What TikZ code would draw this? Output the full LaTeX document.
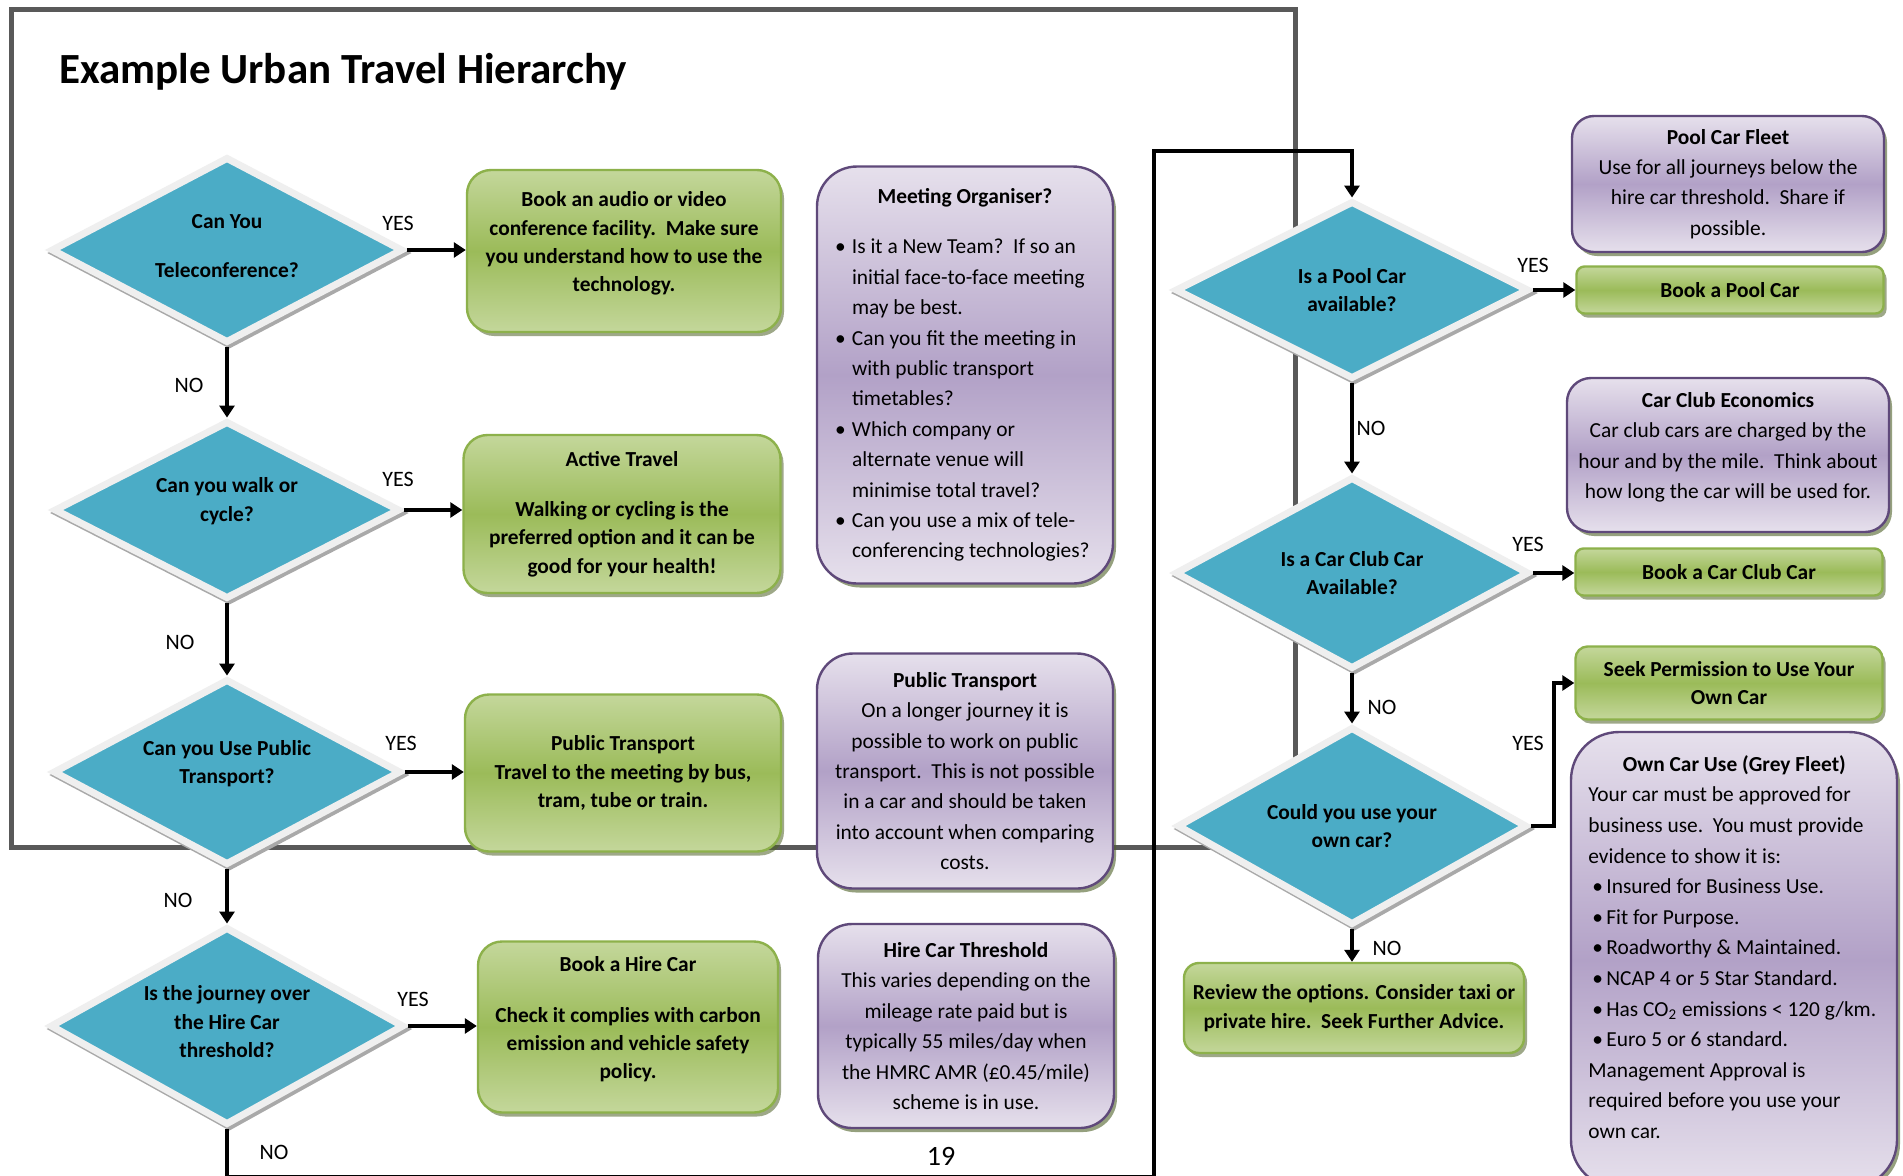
\documentclass[tikz,border=0pt]{standalone}
\usepackage{fontspec}
\setmainfont{Carlito}
\usetikzlibrary{shapes.geometric,arrows.meta,shadows}
\definecolor{diablue}{HTML}{4BACC6}
\definecolor{diaedge}{HTML}{EFEFEF}
\definecolor{diashadow}{HTML}{A9A9A9}
\definecolor{grlight}{HTML}{C4D79B}
\definecolor{grmid}{HTML}{9BBB59}
\definecolor{grborder}{HTML}{8DB14B}
\definecolor{pulight}{HTML}{E6E0EC}
\definecolor{pumid}{HTML}{B2A1C7}
\definecolor{puborder}{HTML}{5F497A}
\definecolor{olshadow}{HTML}{4F6228}
\definecolor{framegray}{HTML}{595959}
\newcommand{\mybul}{\makebox[8.5pt][l]{\textbullet}}
\newcommand{\myind}{\hspace*{8.5pt}}
\newcommand{\rbul}{\makebox[9pt][l]{\hspace{2pt}\textbullet}}
\begin{document}
\begin{tikzpicture}[x=0.5pt,y=-0.5pt,
  diam/.style={shape=diamond, shape aspect=1.9, fill=diablue, draw=diaedge, line width=3.5pt,
    inner sep=0pt, align=center, font=\fontsize{10.7}{14.2}\selectfont\bfseries,
    drop shadow={shadow xshift=1.2pt, shadow yshift=-1.5pt, fill=diashadow, draw=diashadow, line width=3.5pt, opacity=1}},
  grbox/.style={rectangle, draw=grborder, line width=1.2pt, top color=grlight, bottom color=grlight,
    middle color=grmid, align=center, inner sep=0pt, font=\fontsize{10.7}{14.2}\selectfont\bfseries,
    drop shadow={shadow xshift=1.5pt, shadow yshift=-2pt, fill=olshadow, opacity=0.55}},
  pubox/.style={rectangle, draw=puborder, line width=1.2pt, top color=pulight, bottom color=pulight,
    middle color=pumid, align=center, inner sep=0pt, font=\fontsize{10.7}{15.2}\selectfont,
    drop shadow={shadow xshift=1.5pt, shadow yshift=-2pt, fill=olshadow, opacity=0.6}},
  conn/.style={line width=2pt, -{Triangle[length=6pt,width=7.5pt]}},
  lab/.style={inner sep=0pt, font=\fontsize{11}{13}\selectfont},
]
\path[use as bounding box, fill=white] (0,0) rectangle (1903,1175);
\clip (0,0) rectangle (1903,1175);

% outer frame
\draw[framegray, line width=2.5pt] (11,9) rectangle (1295,847);

% title
\node[anchor=base west, inner sep=0pt, font=\fontsize{21.5}{25}\selectfont\bfseries] (title) at (59,83) {Example Urban Travel Hierarchy};

% left diamonds
\node[diam, minimum width=176pt, minimum height=93pt] (d1) at (227,250) {Can You\\[10.5pt]Teleconference?\\[-10pt]\mbox{}};
\node[diam, minimum width=173pt, minimum height=89pt] (d2) at (227,510) {Can you walk or\\cycle?\\[-3.8pt]\mbox{}};
\node[diam, minimum width=174pt, minimum height=93pt] (d3) at (227,772) {Can you Use Public\\Transport?\\[-4pt]\mbox{}};
\node[diam, minimum width=177pt, minimum height=99pt] (d4) at (227,1026) {Is the journey over\\the Hire Car\\threshold?\\[-10pt]\mbox{}};

% left green boxes
\node[grbox, rounded corners=12pt, minimum width=157pt, minimum height=81pt] (g1) at (624,251)
  {Book an audio or video\\conference facility.\ \ Make sure\\you understand how to use the\\technology.\\[-4.9pt]\mbox{}};
\node[grbox, rounded corners=12pt, minimum width=158.5pt, minimum height=79pt] (g2) at (622,514)
  {Active Travel\\[10.7pt]Walking or cycling is the\\preferred option and it can be\\good for your health!};
\node[grbox, rounded corners=12pt, minimum width=158pt, minimum height=78.5pt] (g3) at (623,773)
  {Public Transport\\Travel to the meeting by bus,\\tram, tube or train.};
\node[grbox, rounded corners=12pt, minimum width=150pt, minimum height=85.5pt] (g4) at (628,1027)
  {Book a Hire Car\\[11pt]Check it complies with carbon\\emission and vehicle safety\\policy.\\[-4.9pt]\mbox{}};

% middle purple boxes
\node[pubox, rounded corners=20pt, minimum width=148pt, minimum height=208.5pt] (p1) at (965,375)
  {\begin{minipage}{130pt}\raggedright
   \makebox[\linewidth]{\bfseries Meeting Organiser?}\\[10pt]
   \mybul\mbox{Is it a New Team?\ \ If so an}\\
   \myind\mbox{initial face-to-face meeting}\\
   \myind\mbox{may be best.}\\
   \mybul\mbox{Can you fit the meeting in}\\
   \myind\mbox{with public transport}\\
   \myind\mbox{timetables?}\\
   \mybul\mbox{Which company or}\\
   \myind\mbox{alternate venue will}\\
   \myind\mbox{minimise total travel?}\\
   \mybul\mbox{Can you use a mix of tele-}\\
   \myind\mbox{conferencing technologies?}
   \end{minipage}};
\node[pubox, rounded corners=18pt, minimum width=148pt, minimum height=117.5pt] (p2) at (965,771)
  {\textbf{Public Transport}\\On a longer journey it is\\possible to work on public\\transport.\ \ This is not possible\\in a car and should be taken\\into account when comparing\\costs.};
\node[pubox, rounded corners=17pt, minimum width=148pt, minimum height=102pt] (p3) at (966,1026)
  {\textbf{Hire Car Threshold}\\This varies depending on the\\mileage rate paid but is\\typically 55 miles/day when\\the HMRC AMR (£0.45/mile)\\scheme is in use.};

% page number
\node[anchor=base, inner sep=0pt, font=\fontsize{14}{16}\selectfont] (pg) at (941,1165) {19};

% right diamonds
\node[diam, minimum width=177pt, minimum height=89pt] (r1) at (1352,290) {Is a Pool Car\\available?};
\node[diam, minimum width=177pt, minimum height=96pt] (r2) at (1352,573) {Is a Car Club Car\\Available?};
\node[diam, minimum width=175pt, minimum height=99pt] (r3) at (1352,826) {Could you use your\\own car?};

% right purple boxes
\node[pubox, rounded corners=11pt, minimum width=156pt, minimum height=68pt] (rp1) at (1728,184)
  {\textbf{Pool Car Fleet}\\Use for all journeys below the\\hire car threshold.\ \ Share if\\possible.};
\node[pubox, rounded corners=12pt, minimum width=161pt, minimum height=77pt] (rp2) at (1728,455)
  {\textbf{Car Club Economics}\\Car club cars are charged by the\\hour and by the mile.\ \ Think about\\how long the car will be used for.\\[-5.7pt]\mbox{}};
\node[pubox, rounded corners=24pt, minimum width=163pt, minimum height=228pt] (rp3) at (1734,960) {};
\node[anchor=north west, inner sep=0pt, font=\fontsize{10.7}{15.3}\selectfont] (rp3t) at (1588,755)
  {\begin{minipage}[t]{146pt}\raggedright
   \makebox[\linewidth]{\bfseries Own Car Use (Grey Fleet)}\\
   \mbox{Your car must be approved for}\\
   \mbox{business use.\ \ You must provide}\\
   \mbox{evidence to show it is:}\\
   \rbul\mbox{Insured for Business Use.}\\
   \rbul\mbox{Fit for Purpose.}\\
   \rbul\mbox{Roadworthy \& Maintained.}\\
   \rbul\mbox{NCAP 4 or 5 Star Standard.}\\
   \rbul\mbox{Has CO\textsubscript{2} emissions < 120 g/km.}\\
   \rbul\mbox{Euro 5 or 6 standard.}\\
   \mbox{Management Approval is}\\
   \mbox{required before you use your}\\
   \mbox{own car.}
   \end{minipage}};

% right green boxes
\node[grbox, rounded corners=4pt, minimum width=153.5pt, minimum height=23.5pt] (rg1) at (1730,290) {Book a Pool Car};
\node[grbox, rounded corners=4pt, minimum width=153.5pt, minimum height=23.5pt] (rg2) at (1729,572) {Book a Car Club Car};
\node[grbox, rounded corners=6pt, minimum width=153.5pt, minimum height=36.5pt] (rg3) at (1729,683) {Seek Permission to Use Your\\Own Car};
\node[grbox, rounded corners=7.5pt, minimum width=170pt, minimum height=45pt] (rg4) at (1354,1008) {Review the options. Consider taxi or\\private hire.\ \ Seek Further Advice.};

% connectors
\draw[conn] (d1.east) -- (d1.east -| g1.west);
\draw[conn] (d2.east) -- (d2.east -| g2.west);
\draw[conn] (d3.east) -- (d3.east -| g3.west);
\draw[conn] (d4.east) -- (d4.east -| g4.west);
\draw[conn] (d1.south) -- (d2.north);
\draw[conn] (d2.south) -- (d3.north);
\draw[conn] (d3.south) -- (d4.north);
\coordinate (c1) at (227,1177);
\coordinate (c2) at (1154,1177);
\coordinate (c3) at (1154,151);
\draw[conn] (d4.south) -- (c1) -- (c2) -- (c3) -| (r1.north);
\draw[conn] (r1.east) -- (r1.east -| rg1.west);
\draw[conn] (r2.east) -- (r2.east -| rg2.west);
\draw[conn] (r1.south) -- (r2.north);
\draw[conn] (r2.south) -- (r3.north);
\coordinate (elb) at (1554,683);
\draw[conn] (r3.east) -| (elb) -- (rg3.west);
\draw[conn] (r3.south) -- (r3.south |- rg4.north);

% labels
\node[lab] (y1) at (398,223) {YES};
\node[lab] (n1) at (189,385) {NO};
\node[lab] (y2) at (398,479) {YES};
\node[lab] (n2) at (180,642) {NO};
\node[lab] (y3) at (401,743) {YES};
\node[lab] (n3) at (178,900) {NO};
\node[lab] (y4) at (413,999) {YES};
\node[lab] (n4) at (274,1152) {NO};
\node[lab] (y5) at (1533,265) {YES};
\node[lab] (n5) at (1371,428) {NO};
\node[lab] (y6) at (1528,544) {YES};
\node[lab] (n6) at (1382,707) {NO};
\node[lab] (y7) at (1528,743) {YES};
\node[lab] (n7) at (1387,948) {NO};
\end{tikzpicture}
\end{document}
